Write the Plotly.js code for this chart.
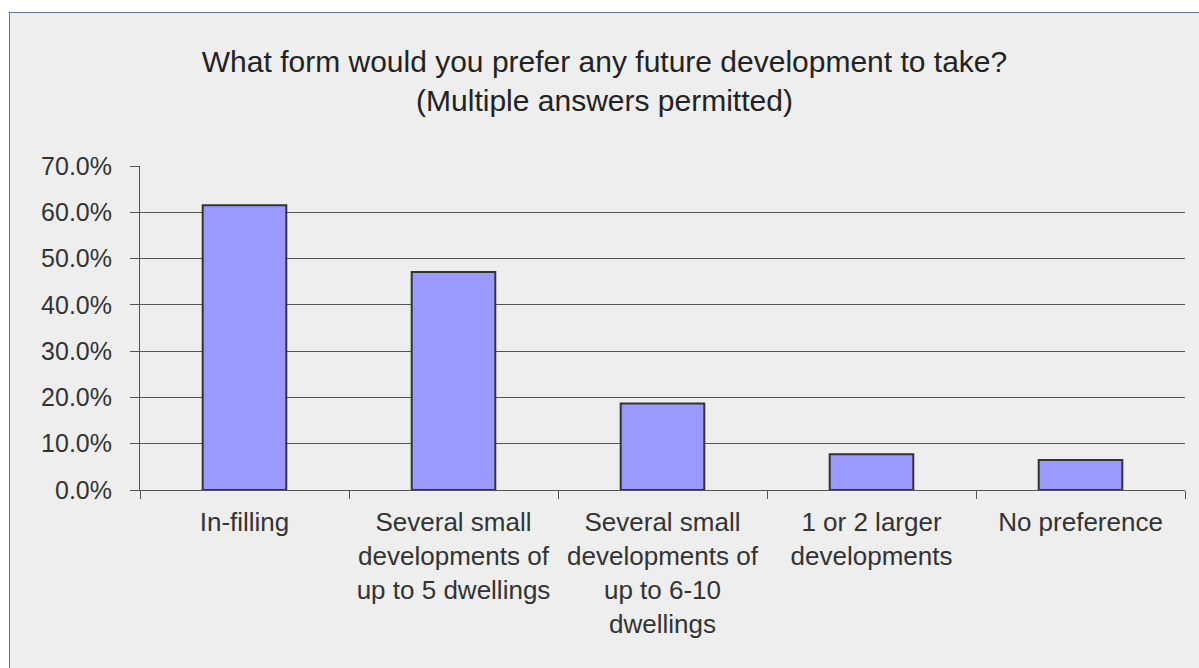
<!DOCTYPE html>
<html>
<head>
<meta charset="utf-8">
<script src="https://cdn.plot.ly/plotly-3.0.1.min.js"></script>
<style>
  html, body { margin:0; padding:0; background:#ffffff; overflow:hidden; }
  #chart { position:absolute; left:9px; top:12px; width:1189px; height:655px;
           border-left:1px solid #66768e; border-top:1px solid #66768e; }
</style>
</head>
<body>
<div id="chart"></div>
<script>
const categories = [
  "In-filling",
  "Several small<br>developments of<br>up to 5 dwellings",
  "Several small<br>developments of<br>up to 6-10<br>dwellings",
  "1 or 2 larger<br>developments",
  "No preference"
];
const percentages = [61.5, 47.1, 18.7, 7.7, 6.5];
const yTickValues = [0, 10, 20, 30, 40, 50, 60, 70];
const yTickLabels = ["0.0%", "10.0%", "20.0%", "30.0%", "40.0%", "50.0%", "60.0%", "70.0%"];
const chartTitle = "What form would you prefer any future development to take?<br>(Multiple answers permitted)";

const FONT = '"Liberation Sans", Arial, sans-serif';

const trace = {
  type: 'bar',
  x: categories,
  y: percentages,
  marker: { color: '#9999ff', line: { color: '#333333', width: 2 } },
  hoverinfo: 'none'
};

const layout = {
  width: 1189,
  height: 655,
  paper_bgcolor: '#eeeeee',
  plot_bgcolor: '#eeeeee',
  margin: { l: 130, r: 14, t: 153, b: 178 },
  bargap: 0.6,
  showlegend: false,
  font: { family: FONT, color: '#333333', size: 26 },
  title: {
    text: chartTitle,
    font: { family: FONT, size: 30, color: '#222222' },
    x: 0.5, xanchor: 'center',
    yref: 'container', y: 0.91, yanchor: 'top'
  },
  xaxis: {
    type: 'category',
    tickson: 'boundaries',
    ticks: 'outside', ticklen: 8, tickcolor: '#555555', tickwidth: 1,
    showline: true, linecolor: '#555555', linewidth: 1,
    showgrid: false,
    tickfont: { family: FONT, size: 26, color: '#333333' },
    ticklabelstandoff: 9,
    fixedrange: true
  },
  yaxis: {
    range: [0, 70],
    tickmode: 'array',
    tickvals: yTickValues,
    ticktext: yTickLabels,
    ticks: 'outside', ticklen: 9, tickcolor: '#555555', tickwidth: 1,
    showline: true, linecolor: '#555555', linewidth: 1,
    showgrid: true, gridcolor: '#555555', gridwidth: 1,
    zeroline: false,
    tickfont: { family: FONT, size: 25, color: '#333333' },
    ticklabelstandoff: 13,
    fixedrange: true
  }
};

Plotly.newPlot('chart', [trace], layout, { displayModeBar: false, staticPlot: true });
</script>
</body>
</html>
